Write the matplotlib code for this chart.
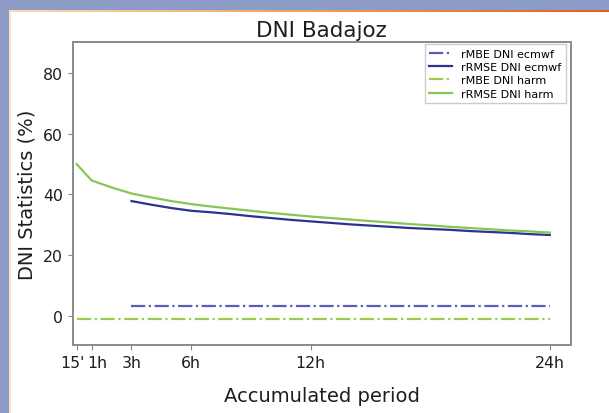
import numpy as np
import matplotlib
matplotlib.use('Agg')
import matplotlib.pyplot as plt
import matplotlib.transforms as mtransforms
from matplotlib.patches import Rectangle
from matplotlib.colors import LinearSegmentedColormap

# accumulated period in hours (15' = 0.25h)
hours_harm = [0.25, 1, 2, 3, 4, 5, 6, 7, 8, 9, 10, 11, 12, 13, 14, 15, 16, 17, 18, 19, 20, 21, 22, 23, 24]
hours_ecmwf = [3, 4, 5, 6, 7, 8, 9, 10, 11, 12, 13, 14, 15, 16, 17, 18, 19, 20, 21, 22, 23, 24]

rmse_harm = [50.0, 44.6, 42.3, 40.3, 39.0, 37.8, 36.8, 36.0, 35.3, 34.6, 33.9, 33.3, 32.7,
             32.2, 31.7, 31.2, 30.7, 30.2, 29.8, 29.3, 28.9, 28.5, 28.1, 27.8, 27.4]
mbe_harm = [-1.1] * len(hours_harm)
rmse_ecmwf = [37.8, 36.6, 35.5, 34.6, 34.1, 33.5, 32.8, 32.2, 31.6, 31.1, 30.6, 30.1,
              29.7, 29.3, 28.9, 28.6, 28.3, 27.9, 27.6, 27.3, 26.9, 26.6]
mbe_ecmwf = [3.3] * len(hours_ecmwf)

tick_pos = [0.25, 1, 3, 6, 12, 24]
tick_lab = ["15'", '1h', '3h', '6h', '12h', '24h']

fig = plt.figure(figsize=(6.09, 4.14), dpi=100)
fig.patch.set_facecolor('#8d9cc6')

# slide background: white panel, thin peach edge, orange stripe on top
bg = fig.add_axes([0, 0, 1, 1], zorder=-5)
bg.axis('off')
bg.add_patch(Rectangle((9, 13), 600, 401, facecolor='white', edgecolor='none'))
bg.add_patch(Rectangle((9, 13), 2, 401, facecolor='#fbe3cc', edgecolor='none'))
cm = LinearSegmentedColormap.from_list('o', ['#fbd9b8', '#f0a060', '#e0601c'])
bg.imshow(np.linspace(0, 1, 256).reshape(1, -1), aspect='auto', cmap=cm,
          extent=(9, 609, 14, 11))
bg.set_xlim(0, 609)
bg.set_ylim(414, 0)

ax = fig.add_axes([72.7/609, (414-346)/414, (570.7-72.7)/609, (346-43)/414])
ax.plot(hours_ecmwf, mbe_ecmwf, '-.', color='#5a5cb8', lw=1.6, label='rMBE DNI ecmwf')
ax.plot(hours_ecmwf, rmse_ecmwf, '-', color='#2d3190', lw=1.6, label='rRMSE DNI ecmwf')
ax.plot(hours_harm, mbe_harm, '-.', color='#9acb4a', lw=1.6, label='rMBE DNI harm')
ax.plot(hours_harm, rmse_harm, '-', color='#86c655', lw=1.6, label='rRMSE DNI harm')

ax.set_xlim(0.05, 25.05)
ax.set_ylim(-9.7, 90.3)
ax.set_xticks(tick_pos)
ax.set_xticklabels(tick_lab)
ax.set_yticks([0, 20, 40, 60, 80])
ax.tick_params(labelsize=11.3, colors='#1e1e1e', length=3.5, color='#888888')
for s in ax.spines.values():
    s.set_color('#8a8a8a')
    s.set_linewidth(1.4)

# nudge the crowded first two tick labels apart
labs = ax.get_xticklabels()
labs[0].set_transform(labs[0].get_transform() + mtransforms.ScaledTranslation(-4/100, 0, fig.dpi_scale_trans))
labs[1].set_transform(labs[1].get_transform() + mtransforms.ScaledTranslation(6/100, 0, fig.dpi_scale_trans))

ax.set_title('DNI Badajoz', fontsize=15.5, color='#1e1e1e', pad=4)
ax.set_xlabel('Accumulated period', fontsize=14, color='#1e1e1e', labelpad=12)
ax.set_ylabel('DNI Statistics (%)', fontsize=14, color='#1e1e1e', labelpad=5)
ax.legend(loc='upper right', bbox_to_anchor=(0.995, 1.0), fontsize=8, frameon=True,
          edgecolor='#cccccc', fancybox=False, handlelength=2.1, labelspacing=0.3,
          borderaxespad=0.2, framealpha=1)

fig.savefig('out.png', dpi=100, facecolor=fig.get_facecolor())
